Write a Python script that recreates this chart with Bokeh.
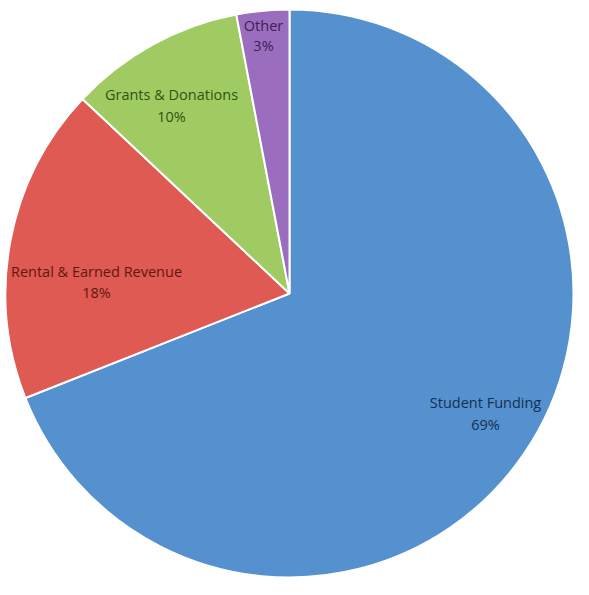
import math
from bokeh.plotting import figure
from bokeh.models import Range1d, ColumnDataSource
from bokeh.core.properties import value
from bokeh.embed import file_html
from bokeh.resources import INLINE

# ---- data ----
categories = ["Student Funding", "Rental & Earned Revenue", "Grants & Donations", "Other"]
shares = [69, 18, 10, 3]
colors = ["#5591CF", "#DE5A52", "#9FCB62", "#9A6DBE"]
label_colors = ["#14304F", "#5E1712", "#34520F", "#3B2255"]

# ---- layout ----
W, H = 573, 579
cx, cy = 289, 293          # pie centre in pixel coords (from top-left)
R = 284
# label centres relative to the pie centre (pixels, y down): name line / percent line
label_dx = [196, -193, -118, -26]
label_dy1 = [109, -22, -199, -268]
label_dy2 = [131, -1, -177, -248]

total = float(sum(shares))
starts, ends = [], []
acc = 0.0
for s in shares:
    starts.append(math.pi / 2 - acc / total * 2 * math.pi)
    acc += s
    ends.append(math.pi / 2 - acc / total * 2 * math.pi)

def py(yy):
    return H - yy

src = ColumnDataSource(dict(x=[cx] * len(shares), y=[py(cy)] * len(shares),
                            start=starts, end=ends, color=colors))

p = figure(width=W, height=H, output_backend="svg", toolbar_location=None,
           x_range=Range1d(0, W), y_range=Range1d(0, H),
           min_border=0, min_border_left=0, min_border_right=0,
           min_border_top=0, min_border_bottom=0)
p.axis.visible = False
p.grid.visible = False
p.outline_line_color = None
p.background_fill_color = "white"
p.border_fill_color = "white"

p.wedge(x="x", y="y", radius=R, start_angle="start", end_angle="end",
        direction="clock", fill_color="color", line_color="white",
        line_width=2, source=src)

lab = ColumnDataSource(dict(
    x=[cx + d for d in label_dx],
    y1=[py(cy + d) for d in label_dy1],
    y2=[py(cy + d) for d in label_dy2],
    name=categories,
    pct=[f"{s}%" for s in shares],
    c=label_colors,
))
for ycol, tcol in (("y1", "name"), ("y2", "pct")):
    p.text(x="x", y=ycol, text=tcol, source=lab, text_color="c",
           text_font=value("Open Sans"), text_font_size="14.5px",
           text_align="center", text_baseline="middle")

open("out.html", "w").write(file_html(p, INLINE))
